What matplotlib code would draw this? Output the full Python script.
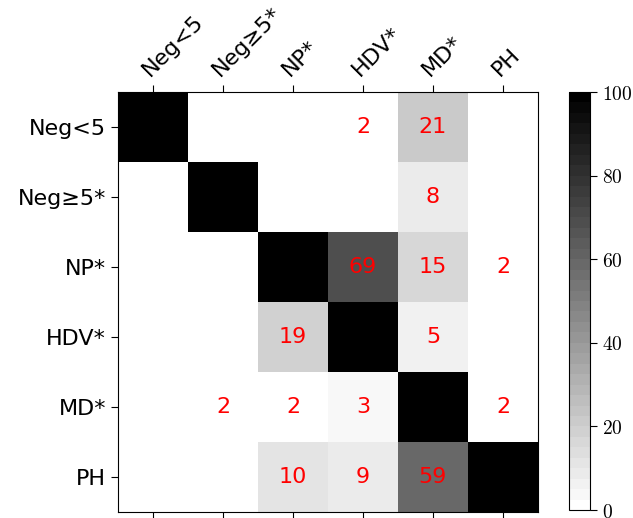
import numpy as np
import matplotlib
matplotlib.use("Agg")
import matplotlib.pyplot as plt

plt.rcParams["font.family"] = ["DejaVu Sans"]
plt.rcParams["mathtext.fontset"] = "cm"

# =========================
# Data
# =========================
labels = ["Neg<5", "Neg≥5*", "NP*", "HDV*", "MD*", "PH"]

row_neg_lt5 = [100, 0, 0, 2, 21, 0]
row_neg_ge5 = [0, 100, 0, 0, 8, 0]
row_np = [0, 0, 100, 69, 15, 2]
row_hdv = [0, 0, 19, 100, 5, 0]
row_md = [0, 2, 2, 3, 100, 2]
row_ph = [0, 0, 10, 9, 59, 100]

cbar_ticks = [0, 20, 40, 60, 80, 100]

matrix = np.array([row_neg_lt5, row_neg_ge5, row_np, row_hdv, row_md, row_ph])

# =========================
# Plot
# =========================
fig = plt.figure(figsize=(6.33, 5.18), dpi=100)
ax = fig.add_axes([118 / 633, 6 / 518, 420 / 633, 420 / 518])
cax = fig.add_axes([569 / 633, 8 / 518, 21 / 633, 418 / 518])

cmap = plt.get_cmap("gray_r", 40)
im = ax.imshow(matrix, cmap=cmap, vmin=0, vmax=100, aspect="auto")

n = len(labels)
for i in range(n):
    for j in range(n):
        if i != j and matrix[i, j] > 0:
            ax.text(j, i, str(matrix[i, j]), ha="center", va="center",
                    color="red", fontsize=16)

ax.set_xticks(range(n))
ax.set_yticks(range(n))
ax.set_xticklabels(labels, fontsize=16)
ax.set_yticklabels(labels, fontsize=16)
ax.tick_params(axis="x", top=True, labeltop=True, bottom=True, labelbottom=False,
               length=5)
ax.tick_params(axis="y", length=5)
plt.setp(ax.get_xticklabels(), rotation=45, ha="left", rotation_mode="anchor")

cb = fig.colorbar(im, cax=cax, ticks=cbar_ticks)
cb.ax.set_yticklabels([r"$%d$" % t for t in cbar_ticks], fontsize=14)
cb.ax.tick_params(length=5)

fig.savefig("out.png", dpi=100)
